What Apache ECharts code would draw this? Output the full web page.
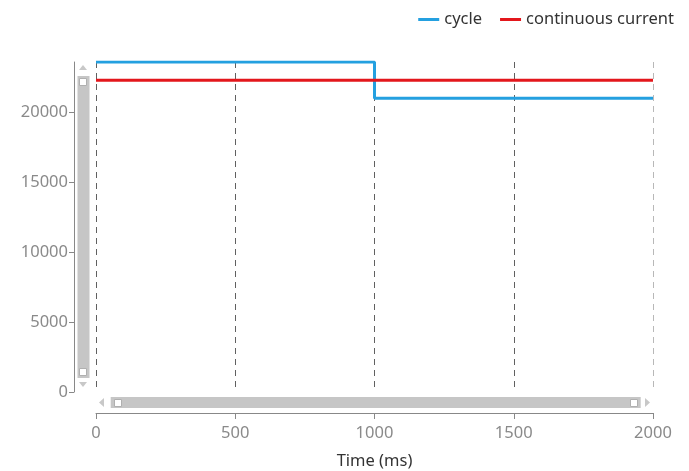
<!DOCTYPE html>
<html>
<head>
<meta charset="utf-8">
<script src="https://cdn.jsdelivr.net/npm/echarts@6/dist/echarts.min.js"></script>
<style>
  html, body { margin: 0; padding: 0; background: #fff; }
  #chart { width: 689px; height: 471px; }
</style>
</head>
<body>
<div id="chart"></div>
<script>
// Time points (ms) and values of the two traces
const cycleTime = [0, 1000, 2000];
const cycleValue = [23600, 21000, 21000];
const currentTime = [0, 2000];
const currentValue = [22300, 22300];
const seriesNames = ['cycle', 'continuous current'];
const xTicks = [0, 500, 1000, 1500, 2000];

const FONT = 'Noto Sans';
const chart = echarts.init(document.getElementById('chart'), null, { renderer: 'canvas' });

const sliderCommon = {
  type: 'slider',
  filterMode: 'none',
  start: 0,
  end: 100,
  showDetail: false,
  showDataShadow: false,
  brushSelect: false,
  moveHandleSize: 0,
  backgroundColor: 'rgba(0,0,0,0)',
  borderColor: 'rgba(0,0,0,0)',
  fillerColor: '#c6c6c6',
  handleSize: 0,
  handleStyle: { opacity: 0 },
  moveHandleStyle: { opacity: 0 },
  dataBackground: { lineStyle: { opacity: 0 }, areaStyle: { opacity: 0 } },
  selectedDataBackground: { lineStyle: { opacity: 0 }, areaStyle: { opacity: 0 } },
  emphasis: { handleStyle: { opacity: 0 }, moveHandleStyle: { opacity: 0 } }
};

// small scrollbar arrows and end grips
const grip = (x, y) => ({
  type: 'rect', z: 100, shape: { x: x + 0.5, y: y + 0.5, width: 7, height: 7 },
  style: { fill: '#fff', stroke: '#b0b0b0', lineWidth: 1 }, silent: true
});
const tri = (pts) => ({
  type: 'polygon', z: 100, shape: { points: pts },
  style: { fill: '#c8c8c8' }, silent: true
});

const plainNumber = (v) => String(v);

chart.setOption({
  animation: false,
  textStyle: { fontFamily: FONT },
  legend: {
    right: 10,
    top: 6,
    icon: 'rect',
    itemWidth: 21,
    itemHeight: 3,
    itemGap: 18,
    textStyle: { fontFamily: FONT, fontSize: 16.5, color: '#333' },
    data: seriesNames
  },
  grid: { left: 96, right: 36, top: 62, bottom: 79, containLabel: false, outerBoundsMode: 'none' },
  xAxis: {
    type: 'value',
    min: xTicks[0],
    max: xTicks[xTicks.length - 1],
    interval: xTicks[1] - xTicks[0],
    offset: 21,
    name: 'Time (ms)',
    nameLocation: 'middle',
    nameGap: 40,
    nameTextStyle: { fontFamily: FONT, fontSize: 16.5, color: '#333' },
    axisLine: { show: true, onZero: false, lineStyle: { color: '#888', width: 1 } },
    axisTick: { show: true, length: 6, lineStyle: { color: '#888' } },
    axisLabel: { fontFamily: FONT, fontSize: 16.5, color: '#8a8a8a', margin: 12, formatter: plainNumber },
    splitLine: {
      show: true,
      showMinLine: true,
      showMaxLine: true,
      lineStyle: { type: [6, 5], width: 1, color: ['#606060', '#606060', '#606060', '#606060', '#b8b8b8'] }
    }
  },
  yAxis: {
    type: 'value',
    min: 0,
    max: 'dataMax',
    interval: 5000,
    offset: 22,
    axisLine: { show: true, onZero: false, lineStyle: { color: '#888', width: 1 } },
    axisTick: { show: true, length: 5, lineStyle: { color: '#888' } },
    axisLabel: { fontFamily: FONT, fontSize: 16.5, color: '#8a8a8a', margin: 6, showMaxLabel: false, formatter: plainNumber },
    splitLine: { show: false }
  },
  dataZoom: [
    Object.assign({}, sliderCommon, {
      xAxisIndex: 0, orient: 'horizontal', left: 110, right: 49, top: 397, height: 11
    }),
    Object.assign({}, sliderCommon, {
      yAxisIndex: 0, orient: 'vertical', left: 77, width: 12, top: 76, bottom: 93
    })
  ],
  graphic: [
    tri([[79, 70], [83, 65], [87, 70]]),
    tri([[79, 382], [87, 382], [83, 387]]),
    tri([[99, 402.5], [104, 398], [104, 407]]),
    tri([[645, 398], [645, 407], [650, 402.5]]),
    grip(79, 78),
    grip(79, 368),
    grip(114, 399),
    grip(630, 399)
  ],
  series: [
    {
      name: seriesNames[0],
      type: 'line',
      step: 'end',
      symbol: 'none',
      color: '#24a0e0',
      lineStyle: { width: 3, color: '#24a0e0' },
      data: cycleTime.map((t, i) => [t, cycleValue[i]]),
      z: 3
    },
    {
      name: seriesNames[1],
      type: 'line',
      symbol: 'none',
      color: '#e3171c',
      lineStyle: { width: 3, color: '#e3171c' },
      data: currentTime.map((t, i) => [t, currentValue[i]]),
      z: 4
    }
  ]
});
</script>
</body>
</html>
